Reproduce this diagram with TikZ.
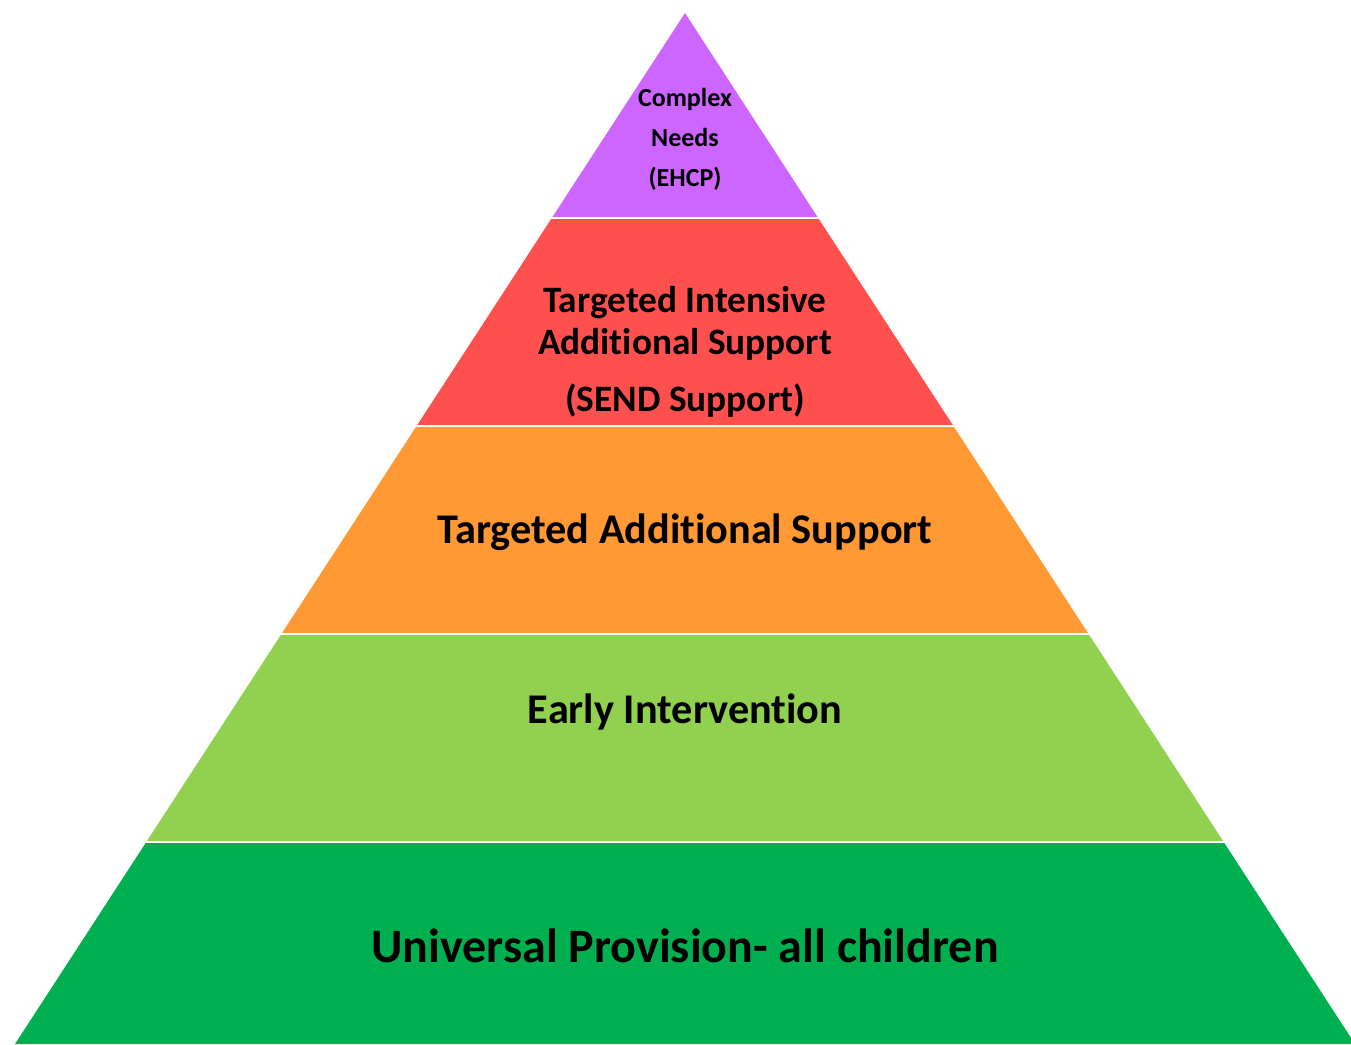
\documentclass[tikz,border=0pt]{standalone}
\usepackage{fontspec}
\setmainfont[Ligatures={NoCommon}]{Carlito}
\definecolor{lvpurple}{HTML}{CC66FF}
\definecolor{lvred}{HTML}{FF5050}
\definecolor{lvorange}{HTML}{FF9933}
\definecolor{lvlgreen}{HTML}{92D050}
\definecolor{lvdgreen}{HTML}{00B050}
\tikzset{
  layer/.style={line width=0pt, draw=none},
  sep/.style={draw=white, line width=2.6pt},
  lbl/.style={anchor=base, inner sep=0pt, text=black, font=\bfseries\fontsize{#1}{#1}\selectfont},
}
\begin{document}
\begin{tikzpicture}[x=1pt,y=-1pt]
\useasboundingbox (0,0) rectangle (1351,1044);
\clip (0,0) rectangle (1351,1044);
% layers
\fill[layer, lvpurple] (685,13) -- (818.2,218) -- (551.8,218) -- cycle;
\fill[layer, lvred] (551.8,218) -- (818.2,218) -- (953.4,426) -- (416.6,426) -- cycle;
\fill[layer, lvorange] (416.6,426) -- (953.4,426) -- (1088.6,634) -- (281.4,634) -- cycle;
\fill[layer, lvlgreen] (281.4,634) -- (1088.6,634) -- (1223.7,842) -- (146.3,842) -- cycle;
\fill[layer, lvdgreen] (146.3,842) -- (1223.7,842) -- (1355,1044) -- (15,1044) -- cycle;
% separators
\draw[sep] (540,218) -- (830,218);
\draw[sep] (405,426) -- (965,426);
\draw[sep] (270,634) -- (1100,634);
\draw[sep] (135,842) -- (1235,842);
% labels
\node[lbl=26] (c1) at (685,106) {Complex};
\node[lbl=26] (c2) at (685,146) {Needs};
\node[lbl=26] (c3) at (685,186) {(EHCP)};
\node[lbl=37.3] (r1) at (685,312) {Targeted Intensive};
\node[lbl=37.3] (r2) at (685,354) {Additional Support};
\node[lbl=37.3] (r3) at (685,411) {(SEND Support)};
\node[lbl=42.3] (o1) at (685,543) {Targeted Additional Support};
\node[lbl=42.3] (g1) at (685,723) {Early Intervention};
\node[lbl=48] (d1) at (685,962) {Universal Provision- all children};
\end{tikzpicture}
\end{document}
